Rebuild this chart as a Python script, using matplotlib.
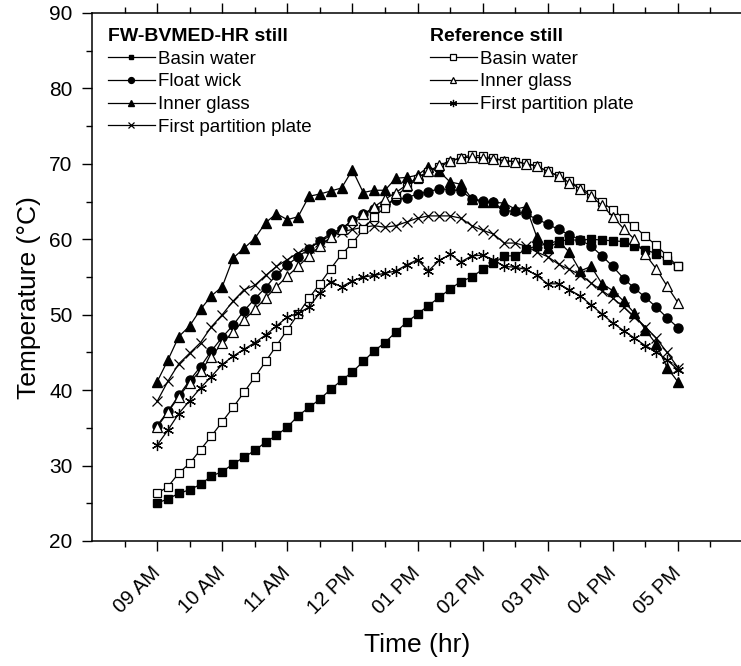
import numpy as np
import matplotlib.pyplot as plt
import matplotlib.transforms as mtransforms

plt.rcParams['font.family'] = ['Liberation Sans', 'DejaVu Sans']

# readings every 10 min from 09:00 to 17:00
hours = np.linspace(9, 17, 49)
hour_ticks = [9, 10, 11, 12, 13, 14, 15, 16, 17]
hour_labels = ['09 AM', '10 AM', '11 AM', '12 PM', '01 PM',
               '02 PM', '03 PM', '04 PM', '05 PM']

# FW-BVMED-HR still
fw_basin = [25.0, 25.6, 26.3, 26.8, 27.5, 28.6, 29.2, 30.2, 31.1, 32.0,
            33.1, 34.0, 35.1, 36.6, 37.7, 38.8, 40.1, 41.3, 42.4, 43.8,
            45.2, 46.3, 47.7, 49.0, 50.1, 51.2, 52.3, 53.4, 54.4, 55.0,
            56.0, 56.8, 57.8, 57.8, 58.7, 59.1, 59.4, 59.8, 59.9, 59.9,
            60.0, 59.9, 59.8, 59.7, 59.1, 58.6, 58.1, 57.3, 56.4]
fw_wick = [35.3, 37.2, 39.3, 41.3, 43.1, 45.2, 47.0, 48.6, 50.5, 52.1,
           53.6, 55.3, 56.6, 57.7, 58.7, 59.8, 60.8, 61.4, 62.5, 63.3,
           64.0, 64.6, 65.2, 65.5, 66.0, 66.3, 66.7, 66.6, 66.4, 65.4,
           65.1, 64.9, 63.8, 63.7, 63.3, 62.7, 62.0, 61.3, 60.6, 59.9,
           59.1, 57.8, 56.4, 54.8, 53.5, 52.3, 51.0, 49.6, 48.3]
fw_glass = [41.1, 44.0, 47.1, 48.5, 50.7, 52.5, 53.7, 57.5, 58.8, 60.1,
            62.2, 63.4, 62.6, 63.0, 65.7, 66.0, 66.4, 66.8, 69.2, 66.2,
            66.5, 66.5, 68.1, 68.2, 68.5, 69.6, 69.0, 67.6, 67.3, 65.4,
            64.9, 64.9, 64.8, 64.0, 64.3, 60.3, 58.8, 59.7, 58.3, 55.8,
            56.4, 54.1, 53.2, 51.8, 50.2, 48.0, 46.1, 43.0, 41.1]
fw_plate = [38.5, 41.2, 43.5, 44.9, 46.3, 48.4, 50.0, 51.8, 53.3, 53.9,
            55.2, 56.4, 57.3, 58.2, 58.8, 59.7, 60.5, 61.0, 61.3, 61.6,
            61.8, 61.6, 61.8, 62.3, 62.8, 63.1, 63.1, 63.1, 62.8, 61.8,
            61.2, 60.7, 59.5, 59.5, 59.1, 58.3, 57.7, 56.7, 56.0, 55.3,
            54.2, 53.2, 52.2, 51.0, 49.7, 48.4, 46.9, 45.0, 43.0]

# Reference still
ref_basin = [26.3, 27.2, 29.0, 30.3, 32.1, 33.9, 35.8, 37.7, 39.7, 41.7,
             43.8, 45.9, 48.0, 50.1, 52.2, 54.1, 56.1, 58.0, 59.5, 61.3,
             63.0, 64.2, 65.7, 66.9, 68.0, 68.9, 69.6, 70.3, 70.8, 71.2,
             71.0, 70.8, 70.4, 70.3, 70.1, 69.7, 69.0, 68.4, 67.7, 66.8,
             66.0, 64.9, 63.9, 62.8, 61.7, 60.4, 59.2, 57.8, 56.4]
ref_glass = [35.1, 37.1, 39.1, 41.0, 42.6, 44.4, 46.3, 47.7, 49.3, 50.7,
             52.2, 53.7, 55.1, 56.4, 57.8, 59.1, 60.3, 61.4, 62.5, 63.3,
             64.3, 65.3, 66.2, 67.2, 68.2, 69.0, 69.8, 70.4, 70.8, 70.9,
             70.8, 70.7, 70.4, 70.3, 70.0, 69.7, 69.0, 68.4, 67.5, 66.7,
             65.7, 64.5, 63.0, 61.4, 60.0, 58.0, 56.1, 53.8, 51.6]
ref_plate = [32.7, 34.7, 36.9, 38.6, 40.3, 41.8, 43.4, 44.5, 45.4, 46.3,
             47.3, 48.5, 49.7, 50.2, 51.0, 52.9, 54.4, 53.7, 54.5, 55.0,
             55.2, 55.5, 55.8, 56.6, 57.3, 55.8, 57.2, 58.0, 57.0, 57.8,
             57.9, 57.3, 56.4, 56.3, 56.0, 55.2, 54.1, 54.1, 53.3, 52.5,
             51.3, 50.1, 48.9, 47.9, 46.9, 45.9, 45.1, 44.0, 42.7]

fig = plt.figure(figsize=(7.41, 6.66), dpi=100)
ax = fig.add_axes([92 / 741, 125 / 666, 651 / 741, 528 / 666])

lw = 0.9
asterisk = (6, 2, 0)

fw_lines = [
    ax.plot(hours, fw_basin, 'k-', marker='s', ms=5.5, mfc='k', lw=lw, label='Basin water')[0],
    ax.plot(hours, fw_wick, 'k-', marker='o', ms=6.5, mfc='k', lw=lw, label='Float wick')[0],
    ax.plot(hours, fw_glass, 'k-', marker='^', ms=7, mfc='k', lw=lw, label='Inner glass')[0],
    ax.plot(hours, fw_plate, 'k-', marker='x', ms=7.5, mew=0.9, lw=lw, label='First partition plate')[0],
]
ref_lines = [
    ax.plot(hours, ref_basin, 'k-', marker='s', ms=6, mfc='white', mew=0.9, lw=lw, label='Basin water')[0],
    ax.plot(hours, ref_glass, 'k-', marker='^', ms=7.5, mfc='white', mew=0.9, lw=lw, label='Inner glass')[0],
    ax.plot(hours, ref_plate, 'k-', marker=asterisk, ms=8, mew=0.9, lw=lw, label='First partition plate')[0],
]

ax.set_xlim(8, 18)
ax.set_ylim(20, 90)
ax.set_xticks(hour_ticks)
ax.set_xticks(np.arange(8.5, 18, 1), minor=True)
ax.set_xticklabels(hour_labels, rotation=45, ha='right', va='center',
                   rotation_mode='anchor', fontsize=14.5)
shift = mtransforms.ScaledTranslation(12 / 72, 0, fig.dpi_scale_trans)
for lab in ax.get_xticklabels():
    lab.set_transform(lab.get_transform() + shift)
ax.set_yticks(np.arange(20, 91, 10))
ax.set_yticks(np.arange(25, 90, 10), minor=True)
ax.tick_params(axis='y', labelsize=15, pad=7)
ax.tick_params(axis='x', pad=14)
ax.tick_params(which='major', direction='out', length=7, width=1, top=True)
ax.tick_params(which='minor', direction='out', length=4, width=1, top=True)
ax.spines['right'].set_visible(False)
for s in ['left', 'bottom', 'top']:
    ax.spines[s].set_linewidth(1.1)

ax.set_xlabel('Time (hr)', fontsize=19)
ax.set_ylabel('Temperature (\u00b0C)', fontsize=19)
ax.xaxis.set_label_coords(0.5, -0.175)
ax.yaxis.set_label_coords(-0.078, 0.462)

leg_kw = dict(frameon=False, loc='upper left', fontsize=13.5, handlelength=2.5,
              handletextpad=0.15, labelspacing=0.3, borderpad=0, borderaxespad=0,
              markerscale=0.65, alignment='left',
              title_fontproperties={'weight': 'bold', 'size': 14},
              bbox_transform=fig.transFigure)
leg1 = ax.legend(handles=fw_lines, title='FW-BVMED-HR still',
                 bbox_to_anchor=(108 / 741, 1 - 28 / 666), **leg_kw)
ax.add_artist(leg1)
ax.legend(handles=ref_lines, title='Reference still',
          bbox_to_anchor=(430 / 741, 1 - 28 / 666), **leg_kw)

fig.savefig('out.png', dpi=100)
